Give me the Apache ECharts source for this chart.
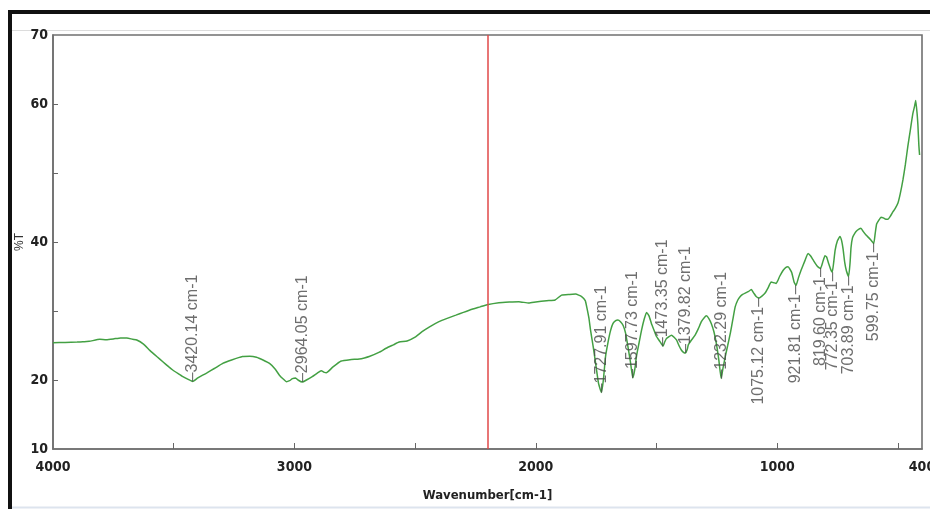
<!DOCTYPE html>
<html>
<head>
<meta charset="utf-8">
<script src="https://cdn.jsdelivr.net/npm/echarts@6/dist/echarts.min.js"></script>
<style>
html,body{margin:0;padding:0;background:#fff;}
#chart{width:930px;height:509px;}
</style>
</head>
<body>
<div id="chart"></div>
<script>
// ---- data ----
const wavenumbers = [4000,3950,3900,3876,3850,3806,3780,3750,3720,3694,3670,3653,3625,3599,3570,3545,3520,3504,3480,3462,3440,3421,3400,3380,3364,3330,3297,3260,3215,3185,3157,3130,3103,3080,3062,3045,3033,3020,3008,2995,2985,2967,2950,2926,2905,2889,2875,2868,2840,2806,2770,2731,2710,2690,2650,2620,2590,2566,2533,2500,2471,2440,2401,2370,2331,2300,2264,2230,2202,2153,2110,2070,2029,2000,1955,1920,1893,1860,1835,1810,1795,1789,1780,1773,1762,1752,1740,1728,1720,1711,1700,1690,1680,1669,1660,1649,1638,1628,1618,1607,1598,1590,1583,1572,1562,1551,1541,1531,1521,1510,1500,1490,1479,1473,1466,1459,1448,1438,1427,1417,1407,1397,1388,1380,1372,1368,1355,1340,1327,1314,1303,1293,1283,1273,1262,1252,1242,1232,1224,1215,1205,1194,1184,1174,1163,1153,1143,1132,1120,1107,1097,1087,1075,1062,1050,1037,1025,1014,1004,990,975,965,955,940,930,922,912,901,885,872,862,851,840,831,820,812,802,795,786,778,772,766,760,750,740,733,727,720,713,704,698,694,688,678,668,653,643,632,620,612,600,594,588,578,570,560,550,541,530,520,512,500,490,479,469,459,448,438,430,426,420,417,413,410];
const transmittance = [25.4,25.45,25.5,25.55,25.6,25.9,25.85,25.95,26.1,26.1,25.9,25.8,25.2,24.3,23.4,22.65,21.9,21.45,20.9,20.5,20.1,19.8,20.3,20.7,21.0,21.7,22.4,22.9,23.4,23.45,23.3,22.9,22.4,21.6,20.7,20.1,19.75,19.9,20.2,20.3,20.0,19.7,20.0,20.5,21.0,21.35,21.1,21.05,21.9,22.75,22.95,23.05,23.2,23.4,24.0,24.6,25.1,25.5,25.65,26.2,27.0,27.7,28.45,28.9,29.4,29.8,30.25,30.6,30.9,31.2,31.3,31.35,31.15,31.3,31.5,31.6,32.3,32.4,32.45,32.1,31.5,30.6,29.0,27.2,24.8,22.4,19.5,18.2,20.0,23.4,25.6,27.2,28.2,28.6,28.7,28.45,27.9,26.8,24.8,22.4,20.3,21.5,23.4,25.4,27.2,28.8,29.8,29.3,28.2,27.2,26.3,25.8,25.2,24.9,25.5,26.0,26.3,26.5,26.2,25.8,25.0,24.35,24.0,23.9,24.5,25.1,25.8,26.5,27.4,28.45,29.0,29.3,28.9,28.2,27.0,25.3,23.0,20.2,21.8,23.4,25.0,26.8,28.7,30.6,31.6,32.1,32.4,32.6,32.8,33.1,32.6,32.1,31.9,32.2,32.6,33.4,34.2,34.1,34.0,35.0,35.9,36.3,36.4,35.6,34.2,33.7,34.8,35.9,37.3,38.35,38.0,37.4,36.8,36.4,36.2,37.0,38.0,37.8,36.8,36.0,35.6,37.0,38.8,40.2,40.8,40.2,39.0,37.0,35.8,35.0,37.0,39.2,40.6,41.3,41.7,42.0,41.5,41.0,40.6,40.3,39.8,41.2,42.6,43.2,43.6,43.5,43.3,43.3,43.8,44.4,44.8,45.6,47.0,49.0,51.2,53.8,56.3,58.6,59.8,60.5,58.5,57.0,54.0,52.6];

const peakUpWavenumbers = [3420.14, 2964.05, 1727.91, 1597.73, 1473.35, 1379.82, 1232.29];
const peakUpT = [19.8, 19.7, 18.2, 20.3, 24.9, 23.9, 20.2];
const peakDownWavenumbers = [1075.12, 921.81, 819.60, 772.35, 703.89, 599.75];
const peakDownT = [31.9, 33.7, 36.2, 35.6, 35.0, 39.8];

const cursorWavenumber = 2200;

const xLabelValues = [4000, 3000, 2000, 1000, 400];
const xTickValues = [3500, 3000, 2500, 2000, 1500, 1000, 500];
const yLabelValues = [10, 20, 40, 60, 70];
const yTickValues = [20, 30, 40, 50, 60];

const xAxisName = 'Wavenumber[cm-1]';
const yAxisName = '%T';

// ---- chart ----
const narrow = '"Liberation Sans Narrow","DejaVu Sans Condensed","Arial Narrow",sans-serif';
const chart = echarts.init(document.getElementById('chart'), null, {renderer: 'canvas'});

const spectrum = wavenumbers.map((w, i) => [w, transmittance[i]]);
const upPts = peakUpWavenumbers.map((w, i) => [w, peakUpT[i]]);
const downPts = peakDownWavenumbers.map((w, i) => [w, peakDownT[i]]);

const peakLabelBase = {
  show: true,
  rotate: 90,
  position: 'inside',
  verticalAlign: 'middle',
  color: '#4a4a4a',
  fontFamily: '"Liberation Sans",Arial,sans-serif',
  fontSize: 16
};

chart.setOption({
  animation: false,
  backgroundColor: '#fff',
  grid: {
    left: 53, right: 8, top: 35, bottom: 60,
    outerBoundsMode: 'none',
    containLabel: false,
    show: true, borderColor: '#707070', borderWidth: 1.6, backgroundColor: 'transparent'
  },
  xAxis: {
    type: 'value',
    inverse: true,
    min: 400,
    max: 4000,
    name: xAxisName,
    nameLocation: 'middle',
    nameGap: 40,
    nameMoveOverlap: false,
    nameTextStyle: {fontFamily: narrow, fontWeight: 'bold', fontSize: 13, color: '#222'},
    axisLine: {show: true, lineStyle: {color: '#707070', width: 1.6}},
    axisTick: {show: true, inside: true, length: 6, customValues: xTickValues, lineStyle: {color: '#666'}},
    axisLabel: {customValues: xLabelValues, margin: 11, fontFamily: narrow, fontWeight: 'bold', fontSize: 14, color: '#222',
      formatter: v => String(v)},
    splitLine: {show: false}
  },
  yAxis: {
    type: 'value',
    min: 10,
    max: 70,
    interval: 10,
    name: yAxisName,
    nameLocation: 'middle',
    nameGap: 27,
    nameMoveOverlap: false,
    nameTextStyle: {fontFamily: '"Liberation Sans",Arial,sans-serif', fontSize: 12, color: '#333'},
    axisLine: {show: true, lineStyle: {color: '#707070', width: 1.6}},
    axisTick: {show: true, inside: true, length: 5, customValues: yTickValues, lineStyle: {color: '#666'}},
    axisLabel: {customValues: yLabelValues, margin: 5, fontFamily: narrow, fontWeight: 'bold', fontSize: 14, color: '#222',
      formatter: v => String(v)},
    splitLine: {show: false}
  },
  series: [
    {
      type: 'line',
      data: spectrum,
      showSymbol: false,
      smooth: 0.15,
      lineStyle: {color: '#43a043', width: 1.5},
      z: 3,
      markLine: {
        silent: true,
        symbol: 'none',
        label: {show: false},
        lineStyle: {color: '#e04848', width: 1.5, type: 'solid', opacity: 1},
        emphasis: {disabled: true},
        data: [{xAxis: cursorWavenumber, lineStyle: {color: '#e04848', width: 1.5, type: 'solid'}}]
      }
    },
    {
      type: 'scatter',
      data: upPts,
      symbolSize: 0,
      silent: true,
      z: 4,
      label: Object.assign({}, peakLabelBase, {
        align: 'left',
        formatter: p => '\u2013' + p.value[0].toFixed(2) + ' cm-1'
      })
    },
    {
      type: 'scatter',
      data: downPts,
      symbolSize: 0,
      silent: true,
      z: 4,
      label: Object.assign({}, peakLabelBase, {
        align: 'right',
        formatter: p => p.value[0].toFixed(2) + ' cm-1\u2013'
      })
    }
  ],
  graphic: [
    {type: 'line', silent: true, shape: {x1: 12, y1: 30.5, x2: 930, y2: 30.5}, style: {stroke: '#dcdcdc', lineWidth: 1}},
    {type: 'line', silent: true, shape: {x1: 12, y1: 507.5, x2: 930, y2: 507.5}, style: {stroke: '#dde4ee', lineWidth: 2}},
    {type: 'rect', silent: true, shape: {x: 8, y: 10, width: 930, height: 4}, style: {fill: '#111'}},
    {type: 'rect', silent: true, shape: {x: 8, y: 10, width: 4, height: 500}, style: {fill: '#111'}}
  ]
});
</script>
</body>
</html>
